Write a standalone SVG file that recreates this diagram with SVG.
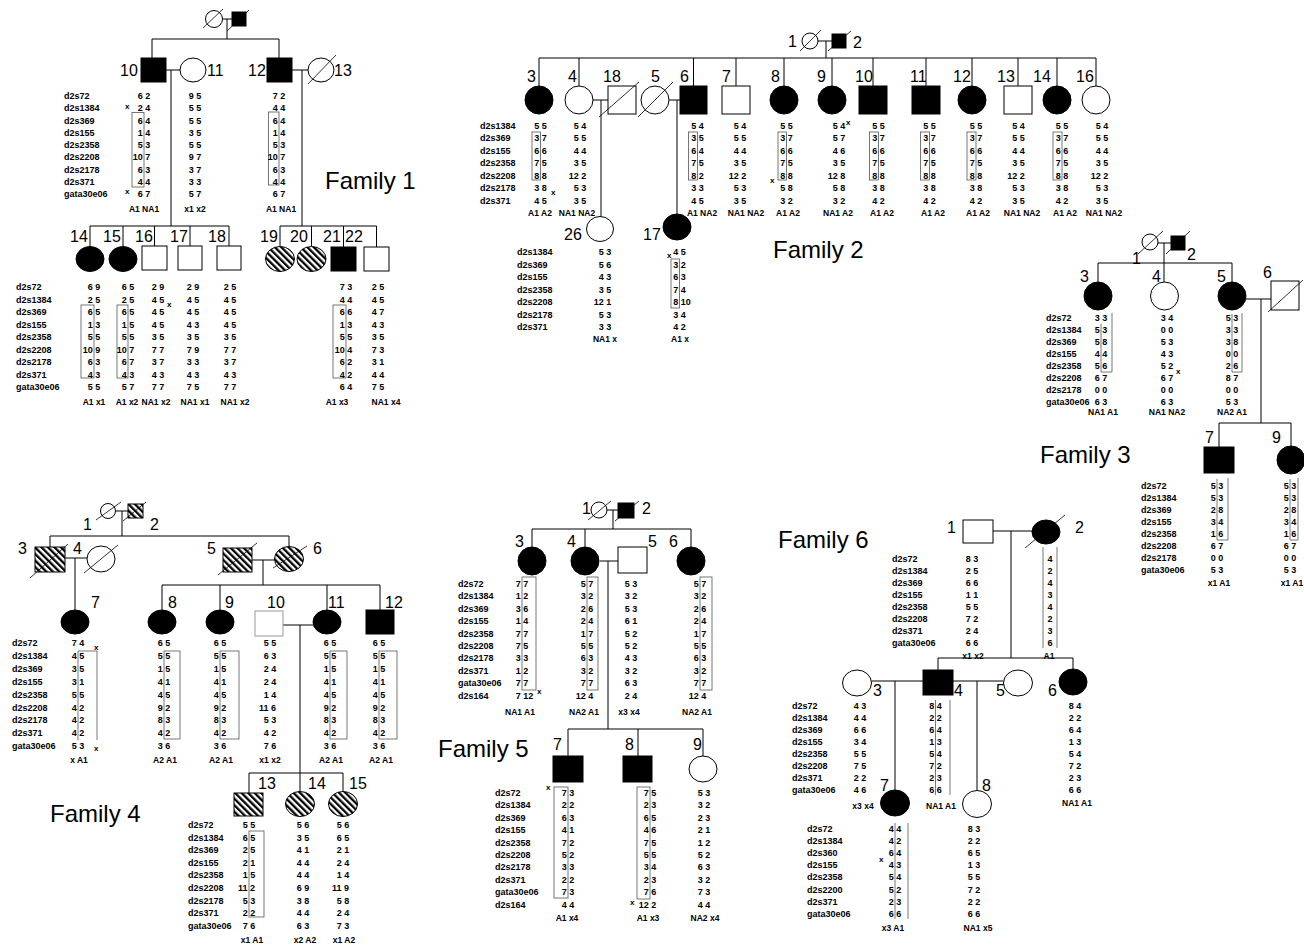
<svg xmlns="http://www.w3.org/2000/svg" width="1304" height="947" viewBox="0 0 1304 947" xml:space="preserve">
<defs>
<pattern id="hat" width="4.6" height="4.6" patternUnits="userSpaceOnUse" patternTransform="rotate(-45)"><rect width="4.6" height="4.6" fill="#fff"/><rect width="2.3" height="4.6" fill="#000"/></pattern>
<style>
text{font-family:"Liberation Sans",Arial,sans-serif;fill:#000}
.s{stroke:#000;stroke-width:1}
.w{fill:#fff}.k{fill:#000}.h{fill:url(#hat)}
.sl{stroke:#000;stroke-width:.8;fill:none}
.ln{stroke:#000;stroke-width:1;fill:none}
.bx{fill:none;stroke:#555;stroke-width:.8}
.n{font-size:16px}
.t{font-size:24px}
.a{font-size:9px;font-weight:bold;text-anchor:middle}
.m{font-size:9px;font-weight:bold}
.gl{font-size:8.5px;font-weight:bold;text-anchor:middle}
.x{font-size:8px;font-weight:bold}
</style>
</defs>
<rect width="1304" height="947" fill="#fff"/>
<g id="connectors" class="ln">
<path d="M222.5,19H232M227,19V39M152,39H279M152,39V58M279,39V58M166,70H180M171,70V226M90,226H229M90,226V246.5M123,226V246.5M154.5,226V246M190,226V246M229,226V246M292,70H308M302,70V226M280,226H376.5M280,226V246.5M311.5,226V246.5M343.5,226V247M376.5,226V247"/>
<path d="M818,41H832M826,41V58M539,58H1096M539,58V86M579,58V86M693.5,58V86M736,58V86M784,58V86M832,58V86M873,58V86M926,58V86M972,58V86M1018,58V86M1057,58V86M1096,58V86M593,100H608M601,100V216.5M669,100H680M677,100V214"/>
<path d="M1158,243H1171M1164,243V282M1098,263H1232M1098,263V282M1232,263V282M1246,299H1271M1261,299V423M1219,423H1291M1219,423V447M1291,423V446"/>
<path d="M115.5,511H128M122,511V536M50,536H289M50,536V547M289,536V546.5M65,558H87M75,558V610M252,560H274.5M263,560V585M162,585H380M162,585V610M220,585V610M327,585V610M380,585V610M283,625H313M300,625V773M249,773H343M249,773V793M300,773V791.5M343,773V791.5"/>
<path d="M607,510H618M613,510V529M532,529H691M532,529V547M585,529V547M691,529V547M600,561H618M608,561V729M568,729H703M568,729V756M638,729V756M703,729V756"/>
<path d="M993,531H1032M1011,531V658M938,658H1073M938,658V670M1073,658V669M871.5,681H923M895,681V790M953,681H1003.5M977,681V790.5"/>
</g>
<g id="titles" class="t">
<text x="325" y="189">Family 1</text>
<text x="773" y="258">Family 2</text>
<text x="1040" y="463">Family 3</text>
<text x="50" y="822">Family 4</text>
<text x="438" y="757">Family 5</text>
<text x="778" y="548">Family 6</text>
</g>
<g id="f1-markers" class="m">
<text x="64" y="99">d2s72</text><text x="64" y="111.3">d2s1384</text><text x="64" y="123.5">d2s369</text><text x="64" y="135.8">d2s155</text><text x="64" y="148">d2s2358</text><text x="64" y="160.3">d2s2208</text><text x="64" y="172.5">d2s2178</text><text x="64" y="184.8">d2s371</text><text x="64" y="197">gata30e06</text>
<text x="16" y="290">d2s72</text><text x="16" y="302.5">d2s1384</text><text x="16" y="315">d2s369</text><text x="16" y="327.5">d2s155</text><text x="16" y="340">d2s2358</text><text x="16" y="352.5">d2s2208</text><text x="16" y="365">d2s2178</text><text x="16" y="377.5">d2s371</text><text x="16" y="390">gata30e06</text>
</g>
<g id="f1-1"><circle class="s w" cx="214" cy="19" r="8.5"/><path class="sl" d="M203,28L223,9"/></g>
<g id="f1-2"><rect class="s k" x="232" y="12" width="14" height="14"/><path class="sl" d="M227,31L249,10"/></g>
<g id="f1-10"><rect class="s k" x="141" y="58" width="25" height="24"/><text class="n" x="120" y="76">10</text><rect class="bx" x="132" y="112.5" width="12" height="74.5"/>
<g class="a" transform="translate(144,0)"><text y="99">6  2</text><text y="111.3">2  4</text><text y="123.5">6  4</text><text y="135.8">1  4</text><text y="148">5  3</text><text x="-2.5" y="160.3">10  7</text><text y="172.5">6  3</text><text y="184.8">4  4</text><text y="197">6  7</text></g>
<text class="x" x="125" y="109">x</text><text class="x" x="125" y="194">x</text><text class="gl" x="144" y="212">A1 NA1</text></g>
<g id="f1-11"><ellipse class="s w" cx="193" cy="70" rx="13" ry="12"/><text class="n" x="207" y="76">11</text>
<g class="a" transform="translate(195,0)"><text y="99">9  5</text><text y="111.3">5  5</text><text y="123.5">5  5</text><text y="135.8">3  5</text><text y="148">5  5</text><text y="160.3">9  7</text><text y="172.5">3  7</text><text y="184.8">3  3</text><text y="197">5  7</text></g>
<text class="gl" x="195" y="212">x1 x2</text></g>
<g id="f1-12"><rect class="s k" x="267" y="58" width="25" height="24"/><text class="n" x="248" y="76">12</text><rect class="bx" x="268.5" y="112" width="10.5" height="73"/>
<g class="a" transform="translate(279,0)"><text y="99">7  2</text><text y="111.3">4  4</text><text y="123.5">6  4</text><text y="135.8">1  4</text><text y="148">5  3</text><text x="-2.5" y="160.3">10  7</text><text y="172.5">6  3</text><text y="184.8">4  4</text><text y="197">6  7</text></g>
<text class="gl" x="281" y="212">A1 NA1</text></g>
<g id="f1-13"><ellipse class="s w" cx="321" cy="70" rx="13" ry="12"/><path class="sl" d="M308,84L336,55"/><text class="n" x="334" y="76">13</text></g>
<g id="f1-14"><ellipse class="s k" cx="90" cy="259" rx="14" ry="12.5"/><text class="n" x="70" y="242">14</text><rect class="bx" x="81" y="305" width="13" height="73"/>
<g class="a" transform="translate(94,0)"><text y="290">6  9</text><text y="302.5">2  5</text><text y="315">6  5</text><text y="327.5">1  3</text><text y="340">5  5</text><text x="-2.5" y="352.5">10  9</text><text y="365">6  3</text><text y="377.5">4  3</text><text y="390">5  5</text></g>
<text class="gl" x="94" y="405">A1 x1</text></g>
<g id="f1-15"><ellipse class="s k" cx="123" cy="259" rx="14" ry="12.5"/><text class="n" x="103" y="242">15</text><rect class="bx" x="117" y="305" width="11" height="73"/>
<g class="a" transform="translate(128,0)"><text y="290">6  5</text><text y="302.5">2  5</text><text y="315">6  5</text><text y="327.5">1  5</text><text y="340">5  5</text><text x="-2.5" y="352.5">10  7</text><text y="365">6  7</text><text y="377.5">4  3</text><text y="390">5  7</text></g>
<text class="gl" x="127" y="405">A1 x2</text></g>
<g id="f1-16"><rect class="s w" x="142" y="246" width="25" height="24"/><text class="n" x="135" y="242">16</text>
<g class="a" transform="translate(158,0)"><text y="290">2  9</text><text y="302.5">4  5</text><text y="315">4  5</text><text y="327.5">4  5</text><text y="340">3  5</text><text y="352.5">7  7</text><text y="365">3  7</text><text y="377.5">4  3</text><text y="390">7  7</text></g>
<text class="x" x="167" y="307">x</text><text class="gl" x="156" y="405">NA1 x2</text></g>
<g id="f1-17"><rect class="s w" x="178" y="246" width="24" height="24"/><text class="n" x="170" y="242">17</text>
<g class="a" transform="translate(193,0)"><text y="290">2  9</text><text y="302.5">4  5</text><text y="315">4  5</text><text y="327.5">4  3</text><text y="340">3  5</text><text y="352.5">7  9</text><text y="365">3  3</text><text y="377.5">4  3</text><text y="390">7  5</text></g>
<text class="gl" x="195" y="405">NA1 x1</text></g>
<g id="f1-18"><rect class="s w" x="217" y="246" width="24" height="24"/><text class="n" x="208" y="242">18</text>
<g class="a" transform="translate(230,0)"><text y="290">2  5</text><text y="302.5">4  5</text><text y="315">4  5</text><text y="327.5">4  5</text><text y="340">3  5</text><text y="352.5">7  7</text><text y="365">3  7</text><text y="377.5">4  3</text><text y="390">7  7</text></g>
<text class="gl" x="235" y="405">NA1 x2</text></g>
<g id="f1-19"><ellipse class="s h" cx="280" cy="259" rx="14.5" ry="12.5"/><text class="n" x="260" y="242">19</text></g>
<g id="f1-20"><ellipse class="s h" cx="311.5" cy="259" rx="14.5" ry="12.5"/><text class="n" x="290" y="242">20</text></g>
<g id="f1-21"><rect class="s k" x="331" y="247" width="25" height="24"/><text class="n" x="323" y="242">21</text><rect class="bx" x="333" y="305" width="13" height="73"/>
<g class="a" transform="translate(346,0)"><text y="290">7  3</text><text y="302.5">4  4</text><text y="315">6  6</text><text y="327.5">1  3</text><text y="340">5  5</text><text x="-2.5" y="352.5">10  4</text><text y="365">6  2</text><text y="377.5">4  2</text><text y="390">6  4</text></g>
<text class="gl" x="337" y="405">A1 x3</text></g>
<g id="f1-22"><rect class="s w" x="364" y="247" width="25" height="24"/><text class="n" x="345" y="242">22</text>
<g class="a" transform="translate(378,0)"><text y="290">2  5</text><text y="302.5">4  5</text><text y="315">4  7</text><text y="327.5">4  3</text><text y="340">3  5</text><text y="352.5">7  3</text><text y="365">3  1</text><text y="377.5">4  4</text><text y="390">7  5</text></g>
<text class="gl" x="386" y="405">NA1 x4</text></g>

<g id="f2-markers" class="m">
<text x="480" y="128.5">d2s1384</text><text x="480" y="141">d2s369</text><text x="480" y="153.5">d2s155</text><text x="480" y="166">d2s2358</text><text x="480" y="178.5">d2s2208</text><text x="480" y="191">d2s2178</text><text x="480" y="203.5">d2s371</text>
<text x="517" y="255">d2s1384</text><text x="517" y="267.5">d2s369</text><text x="517" y="280">d2s155</text><text x="517" y="292.5">d2s2358</text><text x="517" y="305">d2s2208</text><text x="517" y="317.5">d2s2178</text><text x="517" y="330">d2s371</text>
</g>
<g id="f2-1"><text class="n" x="788" y="47">1</text><circle class="s w" cx="810" cy="41" r="8"/><path class="sl" d="M800,51L821,30"/></g>
<g id="f2-2"><rect class="s k" x="832" y="34" width="14" height="14"/><path class="sl" d="M828,51L851,31"/><text class="n" x="853" y="48">2</text></g>
<g id="f2-3"><circle class="s k" cx="539" cy="100" r="14"/><text class="n" x="527" y="82">3</text><rect class="bx" x="532" y="132" width="8.5" height="48"/>
<g class="a" transform="translate(540.5,0)"><text y="128.5">5  5</text><text y="141">3  7</text><text y="153.5">6  6</text><text y="166">7  5</text><text y="178.5">8  8</text><text y="191">3  8</text><text y="203.5">4  5</text></g>
<text class="x" x="551" y="195">x</text><text class="gl" x="540" y="216">A1 A2</text></g>
<g id="f2-4"><circle class="s w" cx="579" cy="100" r="14"/><text class="n" x="568" y="82">4</text>
<g class="a" transform="translate(580,0)"><text y="128.5">5  4</text><text y="141">5  5</text><text y="153.5">4  4</text><text y="166">3  5</text><text x="-2.5" y="178.5">12  2</text><text y="191">5  3</text><text y="203.5">3  5</text></g>
<text class="gl" x="577" y="216">NA1 NA2</text></g>
<g id="f2-18"><rect class="s w" x="608" y="86" width="28" height="28"/><path class="sl" d="M599,117L639,82"/><text class="n" x="603" y="82">18</text></g>
<g id="f2-5"><circle class="s w" cx="655" cy="100" r="14"/><path class="sl" d="M638,117L673,82"/><text class="n" x="651" y="82">5</text></g>
<g id="f2-6"><rect class="s k" x="680" y="86" width="27" height="28"/><text class="n" x="680" y="82">6</text><rect class="bx" x="688.5" y="132" width="9" height="48"/>
<g class="a" transform="translate(697.5,0)"><text y="128.5">5  4</text><text y="141">3  5</text><text y="153.5">6  4</text><text y="166">7  5</text><text y="178.5">8  2</text><text y="191">3  3</text><text y="203.5">4  5</text></g>
<text class="gl" x="702" y="216">A1 NA2</text></g>
<g id="f2-7"><rect class="s w" x="722" y="86" width="28" height="28"/><text class="n" x="722" y="82">7</text>
<g class="a" transform="translate(740,0)"><text y="128.5">5  4</text><text y="141">5  5</text><text y="153.5">4  4</text><text y="166">3  5</text><text x="-2.5" y="178.5">12  2</text><text y="191">5  3</text><text y="203.5">3  5</text></g>
<text class="gl" x="746" y="216">NA1 NA2</text></g>
<g id="f2-8"><circle class="s k" cx="784" cy="100" r="14"/><text class="n" x="771" y="82">8</text><rect class="bx" x="778" y="132" width="8.5" height="48"/>
<g class="a" transform="translate(786.5,0)"><text y="128.5">5  5</text><text y="141">3  7</text><text y="153.5">6  6</text><text y="166">7  5</text><text y="178.5">8  8</text><text y="191">5  8</text><text y="203.5">3  2</text></g>
<text class="x" x="770" y="183">x</text><text class="gl" x="788" y="216">A1 A2</text></g>
<g id="f2-9"><circle class="s k" cx="832" cy="100" r="14"/><text class="n" x="817" y="82">9</text>
<g class="a" transform="translate(839,0)"><text y="128.5">5  4</text><text y="141">5  7</text><text y="153.5">4  6</text><text y="166">3  5</text><text x="-2.5" y="178.5">12  8</text><text y="191">5  8</text><text y="203.5">3  2</text></g>
<text class="x" x="846" y="125">x</text><text class="gl" x="838" y="216">NA1 A2</text></g>
<g id="f2-10"><rect class="s k" x="859" y="86" width="28" height="28"/><text class="n" x="855" y="82">10</text><rect class="bx" x="869.5" y="132" width="9" height="48"/>
<g class="a" transform="translate(878.5,0)"><text y="128.5">5  5</text><text y="141">3  7</text><text y="153.5">6  6</text><text y="166">7  5</text><text y="178.5">8  8</text><text y="191">3  8</text><text y="203.5">4  2</text></g>
<text class="gl" x="882" y="216">A1 A2</text></g>
<g id="f2-11"><rect class="s k" x="912" y="86" width="28" height="28"/><text class="n" x="910" y="82">11</text><rect class="bx" x="920.5" y="132" width="9" height="48"/>
<g class="a" transform="translate(929.5,0)"><text y="128.5">5  5</text><text y="141">3  7</text><text y="153.5">6  6</text><text y="166">7  5</text><text y="178.5">8  8</text><text y="191">3  8</text><text y="203.5">4  2</text></g>
<text class="gl" x="933" y="216">A1 A2</text></g>
<g id="f2-12"><circle class="s k" cx="972" cy="100" r="14"/><text class="n" x="953" y="82">12</text><rect class="bx" x="967" y="132" width="9" height="48"/>
<g class="a" transform="translate(976,0)"><text y="128.5">5  5</text><text y="141">3  7</text><text y="153.5">6  6</text><text y="166">7  5</text><text y="178.5">8  8</text><text y="191">3  8</text><text y="203.5">4  2</text></g>
<text class="gl" x="978" y="216">A1 A2</text></g>
<g id="f2-13"><rect class="s w" x="1004" y="86" width="28" height="28"/><text class="n" x="997" y="82">13</text>
<g class="a" transform="translate(1018.5,0)"><text y="128.5">5  4</text><text y="141">5  5</text><text y="153.5">4  4</text><text y="166">3  5</text><text x="-2.5" y="178.5">12  2</text><text y="191">5  3</text><text y="203.5">3  5</text></g>
<text class="gl" x="1022" y="216">NA1 NA2</text></g>
<g id="f2-14"><circle class="s k" cx="1057" cy="100" r="14"/><text class="n" x="1033" y="82">14</text><rect class="bx" x="1053" y="132" width="9" height="48"/>
<g class="a" transform="translate(1062,0)"><text y="128.5">5  5</text><text y="141">3  7</text><text y="153.5">6  6</text><text y="166">7  5</text><text y="178.5">8  8</text><text y="191">3  8</text><text y="203.5">4  2</text></g>
<text class="gl" x="1065" y="216">A1 A2</text></g>
<g id="f2-16"><circle class="s w" cx="1096" cy="100" r="14"/><text class="n" x="1076" y="82">16</text>
<g class="a" transform="translate(1102,0)"><text y="128.5">5  4</text><text y="141">5  5</text><text y="153.5">4  4</text><text y="166">3  5</text><text x="-2.5" y="178.5">12  2</text><text y="191">5  3</text><text y="203.5">3  5</text></g>
<text class="gl" x="1104" y="216">NA1 NA2</text></g>
<g id="f2-26"><ellipse class="s w" cx="600" cy="229" rx="13.5" ry="12.5"/><text class="n" x="564" y="240">26</text>
<g class="a" transform="translate(605,0)"><text y="255">5  3</text><text y="267.5">5  6</text><text y="280">4  3</text><text y="292.5">3  5</text><text x="-2.5" y="305">12  1</text><text y="317.5">5  3</text><text y="330">3  3</text></g>
<text class="gl" x="605" y="342">NA1 x</text></g>
<g id="f2-17"><ellipse class="s k" cx="677" cy="227" rx="14" ry="13"/><text class="n" x="643" y="240">17</text><rect class="bx" x="671" y="259" width="8.5" height="49"/>
<g class="a" transform="translate(679.5,0)"><text y="255">4  5</text><text y="267.5">3  2</text><text y="280">6  3</text><text y="292.5">7  4</text><text x="2.5" y="305">8  10</text><text y="317.5">3  4</text><text y="330">4  2</text></g>
<text class="x" x="667" y="258">x</text><text class="gl" x="680" y="342">A1 x</text></g>

<g id="f3-markers" class="m">
<text x="1046" y="320.5">d2s72</text><text x="1046" y="332.5">d2s1384</text><text x="1046" y="344.5">d2s369</text><text x="1046" y="356.5">d2s155</text><text x="1046" y="368.5">d2s2358</text><text x="1046" y="380.5">d2s2208</text><text x="1046" y="392.5">d2s2178</text><text x="1046" y="404.5">gata30e06</text>
<text x="1141" y="488.5">d2s72</text><text x="1141" y="500.6">d2s1384</text><text x="1141" y="512.7">d2s369</text><text x="1141" y="524.8">d2s155</text><text x="1141" y="536.9">d2s2358</text><text x="1141" y="549">d2s2208</text><text x="1141" y="561.1">d2s2178</text><text x="1141" y="573.2">gata30e06</text>
</g>
<g id="f3-1"><text class="n" x="1132" y="264">1</text><circle class="s w" cx="1150" cy="242" r="8"/><path class="sl" d="M1138,254L1163,231"/></g>
<g id="f3-2"><rect class="s k" x="1171" y="236" width="14" height="14"/><path class="sl" d="M1166,254L1190,231"/><text class="n" x="1187" y="260">2</text></g>
<g id="f3-3"><circle class="s k" cx="1098" cy="296" r="14"/><text class="n" x="1080" y="282">3</text><path class="bx" d="M1101,324V372H1112V313"/>
<g class="a" transform="translate(1101,0)"><text y="320.5">3  3</text><text y="332.5">5  3</text><text y="344.5">5  8</text><text y="356.5">4  4</text><text y="368.5">5  6</text><text y="380.5">6  7</text><text y="392.5">0  0</text><text y="404.5">6  3</text></g>
<text class="gl" x="1103" y="415">NA1 A1</text></g>
<g id="f3-4"><circle class="s w" cx="1164.5" cy="296" r="14"/><text class="n" x="1152" y="282">4</text>
<g class="a" transform="translate(1167,0)"><text y="320.5">3  4</text><text y="332.5">0  0</text><text y="344.5">5  3</text><text y="356.5">4  3</text><text y="368.5">5  2</text><text y="380.5">6  7</text><text y="392.5">0  0</text><text y="404.5">6  3</text></g>
<text class="x" x="1176" y="374">x</text><text class="gl" x="1167" y="415">NA1 NA2</text></g>
<g id="f3-5"><circle class="s k" cx="1232" cy="296" r="14"/><text class="n" x="1217" y="282">5</text><path class="bx" d="M1232,314V372H1242V313"/>
<g class="a" transform="translate(1232,0)"><text y="320.5">5  3</text><text y="332.5">3  3</text><text y="344.5">3  8</text><text y="356.5">0  0</text><text y="368.5">2  6</text><text y="380.5">8  7</text><text y="392.5">0  0</text><text y="404.5">5  3</text></g>
<text class="gl" x="1232" y="415">NA2 A1</text></g>
<g id="f3-6"><rect class="s w" x="1271" y="281" width="28" height="29"/><path class="sl" d="M1268,312L1303,280"/><text class="n" x="1263" y="278">6</text></g>
<g id="f3-7"><rect class="s k" x="1204" y="447" width="30" height="26"/><text class="n" x="1205" y="443">7</text><path class="bx" d="M1217,479V540H1228V478"/>
<g class="a" transform="translate(1217,0)"><text y="488.5">5  3</text><text y="500.6">5  3</text><text y="512.7">2  8</text><text y="524.8">3  4</text><text y="536.9">1  6</text><text y="549">6  7</text><text y="561.1">0  0</text><text y="573.2">5  3</text></g>
<text class="gl" x="1219" y="586">x1 A1</text></g>
<g id="f3-9"><circle class="s k" cx="1291" cy="460" r="14"/><text class="n" x="1272" y="443">9</text><path class="bx" d="M1290,479V540H1298V478"/>
<g class="a" transform="translate(1290,0)"><text y="488.5">5  3</text><text y="500.6">5  3</text><text y="512.7">2  8</text><text y="524.8">3  4</text><text y="536.9">1  6</text><text y="549">6  7</text><text y="561.1">0  0</text><text y="573.2">5  3</text></g>
<text class="gl" x="1292" y="586">x1 A1</text></g>

<g id="f4-markers" class="m">
<text x="12" y="646">d2s72</text><text x="12" y="658.9">d2s1384</text><text x="12" y="671.8">d2s369</text><text x="12" y="684.7">d2s155</text><text x="12" y="697.6">d2s2358</text><text x="12" y="710.5">d2s2208</text><text x="12" y="723.4">d2s2178</text><text x="12" y="736.3">d2s371</text><text x="12" y="749.2">gata30e06</text>
<text x="188" y="828">d2s72</text><text x="188" y="840.6">d2s1384</text><text x="188" y="853.2">d2s369</text><text x="188" y="865.8">d2s155</text><text x="188" y="878.4">d2s2358</text><text x="188" y="891">d2s2208</text><text x="188" y="903.6">d2s2178</text><text x="188" y="916.2">d2s371</text><text x="188" y="928.8">gata30e06</text>
</g>
<g id="f4-1"><circle class="s w" cx="108" cy="511" r="7.5"/><path class="sl" d="M96,520L121,502"/><text class="n" x="83" y="530">1</text></g>
<g id="f4-2"><rect class="s h" x="128" y="504" width="15" height="14"/><path class="sl" d="M123,521L146,502"/><text class="n" x="150" y="530">2</text></g>
<g id="f4-3"><rect class="s h" x="35" y="547" width="30" height="25"/><path class="sl" d="M30,578L68,544"/><text class="n" x="18" y="554">3</text></g>
<g id="f4-4"><ellipse class="s w" cx="101" cy="559" rx="14" ry="13"/><path class="sl" d="M84,573L118,545"/><text class="n" x="73" y="554">4</text></g>
<g id="f4-5"><rect class="s h" x="223" y="548" width="29" height="24"/><path class="sl" d="M218,575L257,543"/><text class="n" x="207" y="554">5</text></g>
<g id="f4-6"><ellipse class="s h" cx="289" cy="559" rx="14.5" ry="12.5"/><path class="sl" d="M273,568L307,546"/><text class="n" x="313" y="554">6</text></g>
<g id="f4-7"><ellipse class="s k" cx="75" cy="622" rx="14" ry="12"/><text class="n" x="91" y="608">7</text><path class="bx" d="M78,740V651H97V740"/>
<g class="a" transform="translate(78,0)"><text y="646">7  4</text><text y="658.9">4  5</text><text y="671.8">3  5</text><text y="684.7">3  1</text><text y="697.6">5  5</text><text y="710.5">4  2</text><text y="723.4">4  2</text><text y="736.3">4  2</text><text y="749.2">5  3</text></g>
<text class="x" x="94" y="650">x</text><text class="x" x="94" y="751">x</text><text class="gl" x="79" y="763">x A1</text></g>
<g id="f4-8"><ellipse class="s k" cx="162" cy="622" rx="14" ry="12"/><text class="n" x="168" y="608">8</text><rect class="bx" x="164" y="651" width="16" height="88"/>
<g class="a" transform="translate(164,0)"><text y="646">6  5</text><text y="658.9">5  5</text><text y="671.8">1  5</text><text y="684.7">4  1</text><text y="697.6">4  5</text><text y="710.5">9  2</text><text y="723.4">8  3</text><text y="736.3">4  2</text><text y="749.2">3  6</text></g>
<text class="gl" x="165" y="763">A2 A1</text></g>
<g id="f4-9"><ellipse class="s k" cx="220" cy="622" rx="14" ry="12"/><text class="n" x="225" y="608">9</text><rect class="bx" x="220" y="651" width="19" height="88"/>
<g class="a" transform="translate(220,0)"><text y="646">6  5</text><text y="658.9">5  5</text><text y="671.8">1  5</text><text y="684.7">4  1</text><text y="697.6">4  5</text><text y="710.5">9  2</text><text y="723.4">8  3</text><text y="736.3">4  2</text><text y="749.2">3  6</text></g>
<text class="gl" x="221" y="763">A2 A1</text></g>
<g id="f4-10"><rect fill="#fff" stroke="#999" stroke-width="1" x="255" y="611" width="28" height="25"/><text class="n" x="267" y="608">10</text>
<g class="a" transform="translate(270,0)"><text y="646">5  5</text><text y="658.9">6  3</text><text y="671.8">2  4</text><text y="684.7">2  4</text><text y="697.6">1  4</text><text x="-2.5" y="710.5">11  6</text><text y="723.4">5  3</text><text y="736.3">4  2</text><text y="749.2">7  6</text></g>
<text class="gl" x="270" y="763">x1 x2</text></g>
<g id="f4-11"><ellipse class="s k" cx="327" cy="622" rx="14" ry="12"/><text class="n" x="328" y="608">11</text><rect class="bx" x="330" y="651" width="17" height="88"/>
<g class="a" transform="translate(330,0)"><text y="646">6  5</text><text y="658.9">5  5</text><text y="671.8">1  5</text><text y="684.7">4  1</text><text y="697.6">4  5</text><text y="710.5">9  2</text><text y="723.4">8  3</text><text y="736.3">4  2</text><text y="749.2">3  6</text></g>
<text class="gl" x="331" y="763">A2 A1</text></g>
<g id="f4-12"><rect class="s k" x="366" y="610" width="28" height="24"/><text class="n" x="385" y="608">12</text><rect class="bx" x="379" y="651" width="18" height="88"/>
<g class="a" transform="translate(379,0)"><text y="646">6  5</text><text y="658.9">5  5</text><text y="671.8">1  5</text><text y="684.7">4  1</text><text y="697.6">4  5</text><text y="710.5">9  2</text><text y="723.4">8  3</text><text y="736.3">4  2</text><text y="749.2">3  6</text></g>
<text class="gl" x="381" y="763">A2 A1</text></g>
<g id="f4-13"><rect class="s h" x="234" y="793" width="29" height="23"/><text class="n" x="258" y="789">13</text><rect class="bx" x="249" y="831" width="15" height="86"/>
<g class="a" transform="translate(249,0)"><text y="828">5  5</text><text y="840.6">6  5</text><text y="853.2">2  5</text><text y="865.8">2  1</text><text y="878.4">1  5</text><text x="-2.5" y="891">11  2</text><text y="903.6">5  3</text><text y="916.2">2  2</text><text y="928.8">7  6</text></g>
<text class="gl" x="252" y="943">x1 A1</text></g>
<g id="f4-14"><ellipse class="s h" cx="300" cy="804" rx="14.5" ry="12.5"/><text class="n" x="308" y="789">14</text>
<g class="a" transform="translate(303,0)"><text y="828">5  6</text><text y="840.6">3  5</text><text y="853.2">4  1</text><text y="865.8">4  4</text><text y="878.4">4  4</text><text y="891">6  9</text><text y="903.6">3  8</text><text y="916.2">4  4</text><text y="928.8">6  3</text></g>
<text class="gl" x="305" y="943">x2 A2</text></g>
<g id="f4-15"><ellipse class="s h" cx="343" cy="804" rx="14.5" ry="12.5"/><text class="n" x="349" y="789">15</text>
<g class="a" transform="translate(343,0)"><text y="828">5  6</text><text y="840.6">6  5</text><text y="853.2">2  1</text><text y="865.8">2  4</text><text y="878.4">1  4</text><text x="-2.5" y="891">11  9</text><text y="903.6">5  8</text><text y="916.2">2  4</text><text y="928.8">7  3</text></g>
<text class="gl" x="344" y="943">x1 A2</text></g>

<g id="f5-markers" class="m">
<text x="458" y="587">d2s72</text><text x="458" y="599.4">d2s1384</text><text x="458" y="611.8">d2s369</text><text x="458" y="624.2">d2s155</text><text x="458" y="636.6">d2s2358</text><text x="458" y="649">d2s2208</text><text x="458" y="661.4">d2s2178</text><text x="458" y="673.8">d2s371</text><text x="458" y="686.2">gata30e06</text><text x="458" y="698.6">d2s164</text>
<text x="495" y="796">d2s72</text><text x="495" y="808.4">d2s1384</text><text x="495" y="820.8">d2s369</text><text x="495" y="833.2">d2s155</text><text x="495" y="845.6">d2s2358</text><text x="495" y="858">d2s2208</text><text x="495" y="870.4">d2s2178</text><text x="495" y="882.8">d2s371</text><text x="495" y="895.2">gata30e06</text><text x="495" y="907.6">d2s164</text>
</g>
<g id="f5-1"><text class="n" x="582" y="514">1</text><circle class="s w" cx="599" cy="510" r="8"/><path class="sl" d="M588,520L611,501"/></g>
<g id="f5-2"><rect class="s k" x="618" y="503" width="16" height="15"/><path class="sl" d="M615,521L639,501"/><text class="n" x="642" y="514">2</text></g>
<g id="f5-3"><circle class="s k" cx="532" cy="561" r="14"/><text class="n" x="515" y="547">3</text><rect class="bx" x="522" y="577" width="14" height="113"/>
<g class="a" transform="translate(522,0)"><text y="587">7  7</text><text y="599.4">1  2</text><text y="611.8">3  6</text><text y="624.2">1  4</text><text y="636.6">7  7</text><text y="649">7  5</text><text y="661.4">3  3</text><text y="673.8">1  2</text><text y="686.2">7  7</text><text x="2.5" y="698.6">7  12</text></g>
<text class="x" x="537" y="694">x</text><text class="gl" x="520" y="715">NA1 A1</text></g>
<g id="f5-4"><circle class="s k" cx="585" cy="561" r="14"/><text class="n" x="567" y="547">4</text><rect class="bx" x="587" y="577" width="11" height="113"/>
<g class="a" transform="translate(587,0)"><text y="587">5  7</text><text y="599.4">3  2</text><text y="611.8">2  6</text><text y="624.2">2  4</text><text y="636.6">1  7</text><text y="649">5  5</text><text y="661.4">6  3</text><text y="673.8">3  2</text><text y="686.2">7  7</text><text x="-2.5" y="698.6">12  4</text></g>
<text class="gl" x="584" y="715">NA2 A1</text></g>
<g id="f5-5"><rect class="s w" x="618" y="547" width="29" height="26"/><text class="n" x="648" y="547">5</text>
<g class="a" transform="translate(631,0)"><text y="587">5  3</text><text y="599.4">3  2</text><text y="611.8">5  3</text><text y="624.2">6  1</text><text y="636.6">5  2</text><text y="649">5  2</text><text y="661.4">4  3</text><text y="673.8">3  2</text><text y="686.2">6  3</text><text y="698.6">2  4</text></g>
<text class="gl" x="629" y="715">x3 x4</text></g>
<g id="f5-6"><circle class="s k" cx="691" cy="561" r="14"/><text class="n" x="669" y="547">6</text><rect class="bx" x="700" y="577" width="12" height="113"/>
<g class="a" transform="translate(700,0)"><text y="587">5  7</text><text y="599.4">3  2</text><text y="611.8">2  6</text><text y="624.2">2  4</text><text y="636.6">1  7</text><text y="649">5  5</text><text y="661.4">6  3</text><text y="673.8">3  2</text><text y="686.2">7  7</text><text x="-2.5" y="698.6">12  4</text></g>
<text class="gl" x="697" y="715">NA2 A1</text></g>
<g id="f5-7"><rect class="s k" x="553" y="756" width="30" height="26"/><text class="n" x="553" y="750">7</text><rect class="bx" x="554" y="787" width="14" height="111"/>
<g class="a" transform="translate(568,0)"><text y="796">7  3</text><text y="808.4">2  2</text><text y="820.8">6  3</text><text y="833.2">4  1</text><text y="845.6">7  2</text><text y="858">5  2</text><text y="870.4">3  3</text><text y="882.8">2  2</text><text y="895.2">7  3</text><text y="907.6">4  4</text></g>
<text class="x" x="546" y="790">x</text><text class="gl" x="567" y="921">A1 x4</text></g>
<g id="f5-8"><rect class="s k" x="623" y="756" width="29" height="26"/><text class="n" x="625" y="750">8</text><rect class="bx" x="637" y="787" width="13" height="112"/>
<g class="a" transform="translate(650,0)"><text y="796">7  5</text><text y="808.4">2  3</text><text y="820.8">6  5</text><text y="833.2">4  6</text><text y="845.6">7  5</text><text y="858">5  5</text><text y="870.4">3  4</text><text y="882.8">2  3</text><text y="895.2">7  6</text><text x="-2.5" y="907.6">12  2</text></g>
<text class="x" x="630" y="905">x</text><text class="gl" x="648" y="921">A1 x3</text></g>
<g id="f5-9"><ellipse class="s w" cx="703" cy="769" rx="14" ry="13"/><text class="n" x="693" y="750">9</text>
<g class="a" transform="translate(704,0)"><text y="796">5  3</text><text y="808.4">3  2</text><text y="820.8">2  3</text><text y="833.2">2  1</text><text y="845.6">1  2</text><text y="858">5  2</text><text y="870.4">6  3</text><text y="882.8">3  2</text><text y="895.2">7  3</text><text y="907.6">4  4</text></g>
<text class="gl" x="705" y="921">NA2 x4</text></g>

<g id="f6-markers" class="m">
<text x="892" y="561.5">d2s72</text><text x="892" y="573.6">d2s1384</text><text x="892" y="585.7">d2s369</text><text x="892" y="597.8">d2s155</text><text x="892" y="609.9">d2s2358</text><text x="892" y="622">d2s2208</text><text x="892" y="634.1">d2s371</text><text x="892" y="646.2">gata30e06</text>
<text x="792" y="708.5">d2s72</text><text x="792" y="720.6">d2s1384</text><text x="792" y="732.7">d2s369</text><text x="792" y="744.8">d2s155</text><text x="792" y="756.9">d2s2358</text><text x="792" y="769">d2s2208</text><text x="792" y="781.1">d2s371</text><text x="792" y="793.2">gata30e06</text>
<text x="807" y="832">d2s72</text><text x="807" y="844.1">d2s1384</text><text x="807" y="856.2">d2s360</text><text x="807" y="868.3">d2s155</text><text x="807" y="880.4">d2s2358</text><text x="807" y="892.5">d2s2200</text><text x="807" y="904.6">d2s371</text><text x="807" y="916.7">gata30e06</text>
</g>
<g id="f6-1"><rect class="s w" x="963" y="520" width="30" height="23"/><text class="n" x="947" y="533">1</text>
<g class="a" transform="translate(972,0)"><text y="561.5">8  3</text><text y="573.6">2  5</text><text y="585.7">6  6</text><text y="597.8">1  1</text><text y="609.9">5  5</text><text y="622">7  2</text><text y="634.1">2  4</text><text y="646.2">6  6</text></g>
<text class="gl" x="973" y="659">x1 x2</text></g>
<g id="f6-2"><ellipse class="s k" cx="1046" cy="532" rx="14" ry="12"/><path class="sl" d="M1025,548L1065,515"/><text class="n" x="1075" y="533">2</text><path class="bx" d="M1043,547V648M1057,547V648"/>
<g class="a" transform="translate(1050,0)"><text y="561.5">4</text><text y="573.6">2</text><text y="585.7">4</text><text y="597.8">3</text><text y="609.9">4</text><text y="622">2</text><text y="634.1">3</text><text y="646.2">6</text></g>
<text class="gl" x="1049" y="659">A1</text></g>
<g id="f6-3"><ellipse class="s w" cx="857" cy="683" rx="14.5" ry="13"/><text class="n" x="873" y="696">3</text>
<g class="a" transform="translate(860,0)"><text y="708.5">4  3</text><text y="720.6">4  4</text><text y="732.7">6  6</text><text y="744.8">3  4</text><text y="756.9">5  5</text><text y="769">7  5</text><text y="781.1">2  2</text><text y="793.2">4  6</text></g>
<text class="gl" x="863" y="808.5">x3 x4</text></g>
<g id="f6-4"><rect class="s k" x="923" y="670" width="30" height="25"/><text class="n" x="954" y="696">4</text><path class="bx" d="M935.5,700V795M950,700V795"/>
<g class="a" transform="translate(935.5,0)"><text y="708.5">8  4</text><text y="720.6">2  2</text><text y="732.7">6  4</text><text y="744.8">1  3</text><text y="756.9">5  4</text><text y="769">7  2</text><text y="781.1">2  3</text><text y="793.2">6  6</text></g>
<text class="gl" x="941" y="808.5">NA1 A1</text></g>
<g id="f6-5"><ellipse class="s w" cx="1018" cy="683" rx="14.5" ry="13"/><text class="n" x="996" y="696">5</text></g>
<g id="f6-6"><ellipse class="s k" cx="1073" cy="682" rx="14" ry="13"/><text class="n" x="1048" y="696">6</text>
<g class="a" transform="translate(1075,0)"><text y="708.5">8  4</text><text y="720.6">2  2</text><text y="732.7">6  4</text><text y="744.8">1  3</text><text y="756.9">5  4</text><text y="769">7  2</text><text y="781.1">2  3</text><text y="793.2">6  6</text></g>
<text class="gl" x="1077" y="806">NA1 A1</text></g>
<g id="f6-7"><ellipse class="s k" cx="895" cy="803" rx="14.5" ry="13"/><text class="n" x="880" y="791">7</text><path class="bx" d="M895,823V919M908,823V919"/>
<g class="a" transform="translate(895,0)"><text y="832">4  4</text><text y="844.1">4  2</text><text y="856.2">6  4</text><text y="868.3">4  3</text><text y="880.4">5  4</text><text y="892.5">5  2</text><text y="904.6">2  3</text><text y="916.7">6  6</text></g>
<text class="x" x="879" y="862">x</text><text class="gl" x="893" y="931">x3 A1</text></g>
<g id="f6-8"><ellipse class="s w" cx="977" cy="804" rx="14.5" ry="13.5"/><text class="n" x="982" y="791">8</text>
<g class="a" transform="translate(974,0)"><text y="832">8  3</text><text y="844.1">2  2</text><text y="856.2">6  5</text><text y="868.3">1  3</text><text y="880.4">5  5</text><text y="892.5">7  2</text><text y="904.6">2  2</text><text y="916.7">6  6</text></g>
<text class="gl" x="978" y="931">NA1 x5</text></g>
</svg>
